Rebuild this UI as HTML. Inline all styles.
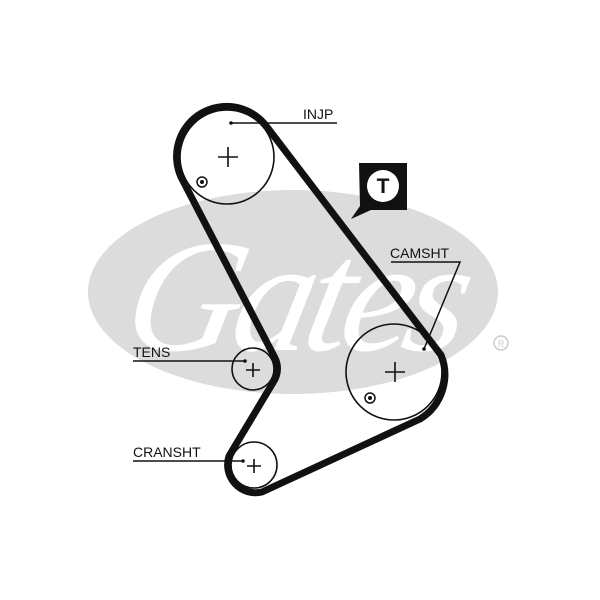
<!DOCTYPE html>
<html><head><style>html,body{margin:0;padding:0;background:#fff}svg{display:block}</style></head><body>
<svg width="600" height="600" viewBox="0 0 600 600" xmlns="http://www.w3.org/2000/svg">
<rect width="600" height="600" fill="#fff"/>
<ellipse cx="293" cy="292" rx="205" ry="102" fill="#dcdcdc"/>
<text x="290" y="350" text-anchor="middle" font-family="Liberation Serif, serif" font-style="italic" font-size="160" fill="#fff" transform="skewX(-12) translate(70,0)" letter-spacing="-8">Gates</text>
<circle cx="501" cy="343" r="7" fill="none" stroke="#ccc" stroke-width="1.5"/>
<text x="501" y="347" text-anchor="middle" font-family="Liberation Sans, sans-serif" font-size="9" fill="#ccc">R</text>
<g fill="none" stroke="#111" stroke-width="1.6">
<circle cx="227" cy="157" r="47"/>
<circle cx="394" cy="372" r="48"/>
<circle cx="253" cy="369" r="21"/>
<circle cx="254" cy="465" r="23"/>
</g>
<g stroke="#111" stroke-width="1.6">
<path d="M218 157h20M228 147v20"/>
<path d="M385 372h20M395 362v20"/>
<path d="M246 370h14M253 363v14"/>
<path d="M247 466h14M254 459v14"/>
</g>
<circle cx="202" cy="182" r="5" fill="none" stroke="#111" stroke-width="1.5"/><circle cx="202" cy="182" r="2" fill="#111"/>
<circle cx="370" cy="398" r="5" fill="none" stroke="#111" stroke-width="1.5"/><circle cx="370" cy="398" r="2" fill="#111"/>
<path d="M181 177 A50 50 0 0 1 267 127 L441 355 A52 52 0 0 1 420 419 L262 492 A28 28 0 0 1 229 456 L274 381 A24 24 0 0 0 275 358 Z" fill="none" stroke="#111" stroke-width="7" stroke-linejoin="round"/>
<g stroke="#111" stroke-width="1.5" fill="none">
<path d="M231 123H337"/>
<path d="M391 262H460L424 349"/>
<path d="M133 361H245"/>
<path d="M133 461H243"/>
</g>
<g fill="#111"><circle cx="231" cy="123" r="1.8"/><circle cx="424" cy="349" r="1.8"/><circle cx="245" cy="361" r="1.8"/><circle cx="243" cy="461" r="1.8"/></g>
<g font-family="Liberation Sans, sans-serif" font-size="14" fill="#111">
<text x="303" y="119">INJP</text>
<text x="390" y="258">CAMSHT</text>
<text x="133" y="357">TENS</text>
<text x="133" y="457">CRANSHT</text>
</g>
<path d="M359 163H407V210H371L351 219L360 206Z" fill="#111"/>
<circle cx="383" cy="186" r="16" fill="#fff"/>
<text x="383" y="193" text-anchor="middle" font-family="Liberation Sans, sans-serif" font-weight="bold" font-size="21" fill="#111">T</text>
</svg>
</body></html>
